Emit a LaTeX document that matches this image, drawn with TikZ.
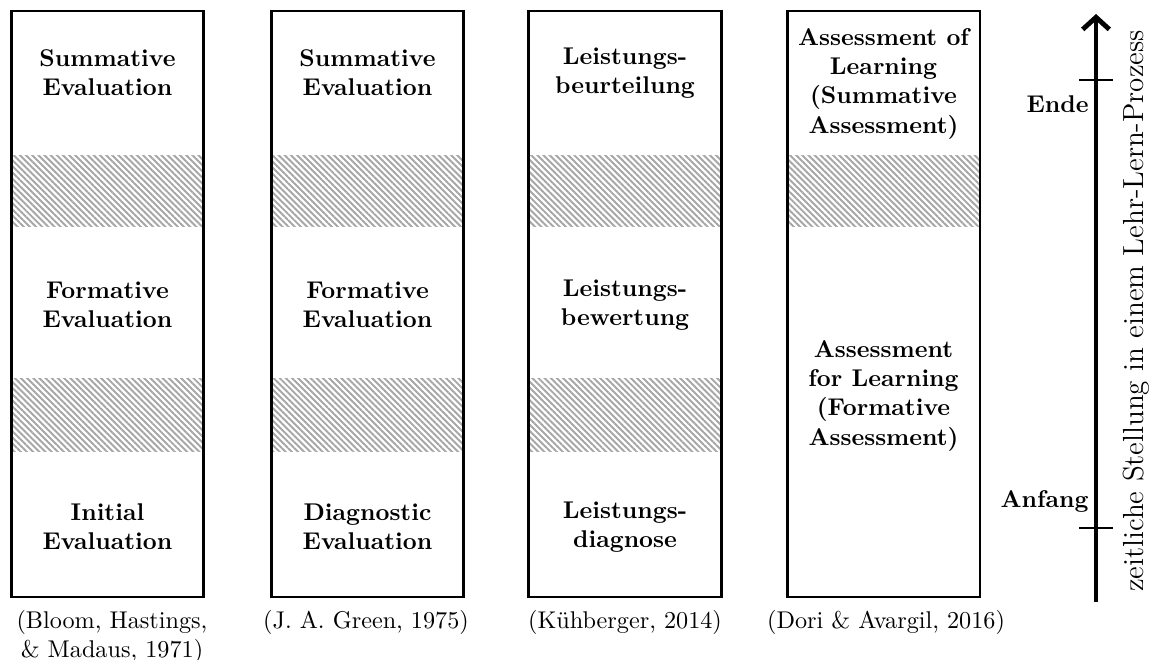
\documentclass[tikz,border=0pt]{standalone}
\usetikzlibrary{arrows.meta,patterns.meta,calc,positioning}
\tikzstyle{column}=[draw, line width=1.2pt, minimum width=79.7pt, minimum height=242.1pt]
\tikzstyle{phase}=[font=\bfseries, align=center]
\tikzstyle{source}=[align=center, anchor=north, inner sep=0pt]
\tikzstyle{gap}=[pattern={Lines[angle=-45,distance=1.8pt,line width=0.8pt]}, pattern color=black!35]
\tikzstyle{timeline}=[draw, line width=2pt, -{Straight Barb[length=5pt,width=11pt]}]
\tikzstyle{tick}=[draw, line width=1.2pt]

\begin{document}
\begin{tikzpicture}[x=0.4132pt,y=-0.4132pt]

\useasboundingbox (0,0) rectangle (1153,659);

% hatched transitions
\fill [gap] (12,155) rectangle (203,226);
\fill [gap] (12,378) rectangle (203,451);
\fill [gap] (271,155) rectangle (464,226);
\fill [gap] (271,378) rectangle (464,451);
\fill [gap] (528,155) rectangle (722,226);
\fill [gap] (528,378) rectangle (722,451);
\fill [gap] (787,155) rectangle (980,226);

\node (bloom) [column] at (107.5,304) {};
\node (green) [column] at (367.5,304) {};
\node (kuehberger) [column] at (625,304) {};
\node (dori) [column] at (883.5,304) {};

\node (bloomsum) [phase] at (107.5,73) {Summative\\Evaluation};
\node (bloomform) [phase] at (107.5,305) {Formative\\Evaluation};
\node (bloominit) [phase] at (107.5,527) {Initial\\Evaluation};

\node (greensum) [phase] at (367.5,73) {Summative\\Evaluation};
\node (greenform) [phase] at (367.5,305) {Formative\\Evaluation};
\node (greendiag) [phase] at (367.5,527) {Diagnostic\\Evaluation};

\node (kuehbeurt) [phase] at (625,73) {Leistungs-\\beurteilung};
\node (kuehbew) [phase] at (625,305) {Leistungs-\\bewertung};
\node (kuehdiag) [phase] at (625,527) {Leistungs-\\diagnose};

\node (dorisum) [phase] at (883.5,84) {Assessment of\\Learning\\(Summative\\Assessment)};
\node (doriform) [phase] at (883.5,396) {Assessment\\for Learning\\(Formative\\Assessment)};

\node (bloomsrc) [source] at (112,610) {(Bloom, Hastings,\\\& Madaus, 1971)};
\node (greensrc) [source] at (366,610) {(J. A. Green, 1975)};
\node (kuehsrc) [source] at (625,610) {(Kühberger, 2014)};
\node (dorisrc) [source] at (886,610) {(Dori \& Avargil, 2016)};

% time axis
\coordinate (tstart) at (1096,602);
\coordinate (tstop) at (1096,14);
\coordinate (tend) at (1096,80);
\coordinate (tbegin) at (1096,528);

\draw [timeline] (tstart) -- (tstop);
\draw [tick] ($(tend)+(-17,0)$) -- ($(tend)+(17,0)$);
\draw [tick] ($(tbegin)+(-17,0)$) -- ($(tbegin)+(17,0)$);

\node (ende) [phase, anchor=base east, inner sep=0pt] at (1089,112) {Ende};
\node (anfang) [phase, anchor=base east, inner sep=0pt] at (1089,507) {Anfang};
\node (axislabel) [font=\large, rotate=90] at (1136,311) {zeitliche Stellung in einem Lehr-Lern-Prozess};

\end{tikzpicture}
\end{document}
